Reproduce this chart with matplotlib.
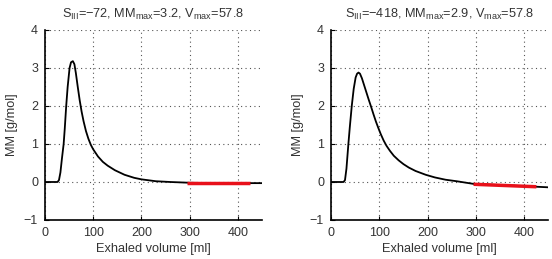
import matplotlib
matplotlib.use("Agg")
import matplotlib.pyplot as plt

plt.rcParams['font.family'] = ['Liberation Sans', 'DejaVu Sans']
plt.rcParams['mathtext.default'] = 'regular'

# Left panel data
x_left = [0, 20, 26, 29, 32, 35, 38.7, 41, 44, 47, 51, 54, 57.8, 61, 64, 68, 72, 76,
          80, 85, 90, 95, 100, 110, 120, 130, 145, 165, 185, 200, 230, 260, 300, 350, 400, 450]
y_left = [0, 0, 0, 0.05, 0.25, 0.6, 1.0, 1.4, 2.0, 2.5, 3.0, 3.15, 3.18, 3.1, 2.87, 2.5, 2.15, 1.85,
          1.6, 1.34, 1.14, 0.98, 0.86, 0.67, 0.53, 0.43, 0.31, 0.19, 0.11, 0.07, 0.02, 0.0, -0.02, -0.03, -0.03, -0.03]
fit_x_left = [295, 425]
fit_y_left = [-0.03, -0.03]
title_left = "S$_{III}$=\u221272, MM$_{max}$=3.2, V$_{max}$=57.8"

# Right panel data
x_right = [0, 20, 26, 29, 32, 36, 39, 43, 47, 51, 54, 57, 60, 64, 68, 73, 78, 83, 88, 93,
           98, 103, 109, 115, 122, 130, 140, 150, 161, 175, 196, 215, 237, 260, 280, 300, 350, 400, 450]
y_right = [0, 0, 0, 0.05, 0.35, 1.0, 1.45, 2.0, 2.45, 2.75, 2.85, 2.88, 2.85, 2.73, 2.57, 2.37, 2.17, 1.98, 1.78, 1.59,
           1.42, 1.26, 1.09, 0.95, 0.82, 0.69, 0.57, 0.47, 0.38, 0.29, 0.19, 0.12, 0.06, 0.02, -0.02, -0.06, -0.08, -0.11, -0.14]
fit_x_right = [295, 425]
fit_y_right = [-0.06, -0.125]
title_right = "S$_{III}$=\u2212418, MM$_{max}$=2.9, V$_{max}$=57.8"

xticks = [0, 100, 200, 300, 400]
yticks = [-1, 0, 1, 2, 3, 4]

fig = plt.figure(figsize=(5.52, 2.59), dpi=100)
ax1 = fig.add_axes([0.0815, 0.1506, 0.393, 0.7336])
ax2 = fig.add_axes([0.5996, 0.1506, 0.394, 0.7336])

for ax, x, y, fx, fy, t in [(ax1, x_left, y_left, fit_x_left, fit_y_left, title_left),
                            (ax2, x_right, y_right, fit_x_right, fit_y_right, title_right)]:
    ax.plot(x, y, color='black', lw=1.3, zorder=3)
    ax.plot(fx, fy, color='#e8101a', lw=2.5, zorder=4, solid_capstyle='butt')
    ax.set_xlim(0, 450)
    ax.set_ylim(-1, 4)
    ax.set_xticks(xticks)
    ax.set_yticks(yticks)
    ax.grid(True, linestyle=(0, (1, 3)), color='#555555', lw=0.8)
    ax.spines['top'].set_visible(False)
    ax.spines['right'].set_visible(False)
    ax.spines['left'].set_linewidth(1.2)
    ax.spines['bottom'].set_linewidth(1.2)
    ax.tick_params(direction='in', length=3, width=0.8, labelsize=9, pad=5, labelcolor='#333333')
    ax.set_xlabel("Exhaled volume [ml]", fontsize=9.2, labelpad=3, color='#333333')
    ax.set_ylabel("MM [g/mol]", fontsize=9.2, labelpad=4, color='#333333')
    ax.set_title(t, fontsize=9.2, pad=9, color='#333333')

fig.savefig("out.png", dpi=100)
